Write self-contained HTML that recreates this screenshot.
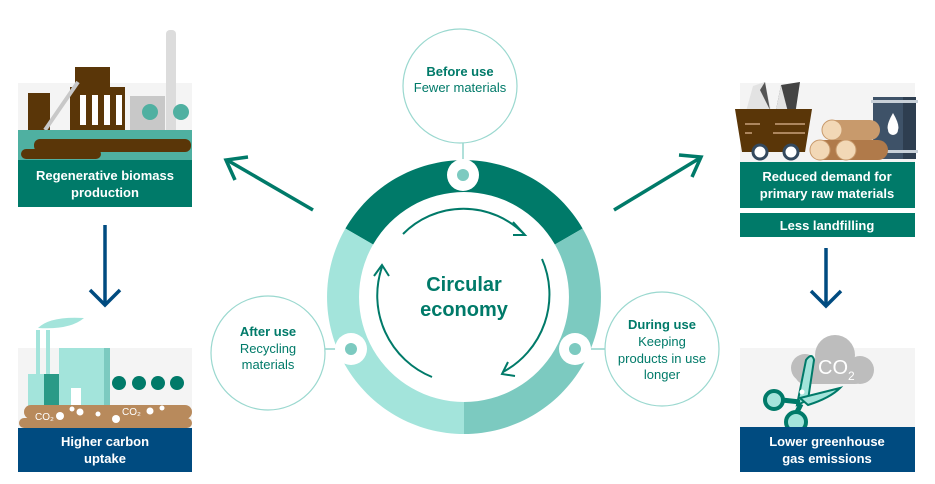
<!DOCTYPE html>
<html><head><meta charset="utf-8"><style>
html,body{margin:0;padding:0;background:#fff}
svg{display:block}
text{font-family:"Liberation Sans",sans-serif}
</style></head><body>
<svg width="935" height="484" viewBox="0 0 935 484" xmlns="http://www.w3.org/2000/svg">
<!-- ring -->
<path d="M345.4,228.5 A137,137 0 0 1 582.6,228.5 L554.9,244.5 A105,105 0 0 0 373.1,244.5 Z" fill="#007a69"/>
<path d="M582.6,228.5 A137,137 0 0 1 464,434 L464,402 A105,105 0 0 0 554.9,244.5 Z" fill="#7ccac0"/>
<path d="M464,434 A137,137 0 0 1 345.4,228.5 L373.1,244.5 A105,105 0 0 0 464,402 Z" fill="#a3e4db"/>
<!-- connectors -->
<line x1="463" y1="143" x2="463" y2="170" stroke="#7ccac0" stroke-width="1.2"/>
<line x1="325" y1="349" x2="345" y2="349" stroke="#7ccac0" stroke-width="1.2"/>
<line x1="580" y1="349" x2="605" y2="349" stroke="#7ccac0" stroke-width="1.2"/>
<circle cx="463" cy="175" r="16" fill="#fff"/><circle cx="463" cy="175" r="6" fill="#7ccac0"/>
<circle cx="351" cy="349" r="16" fill="#fff"/><circle cx="351" cy="349" r="6" fill="#7ccac0"/>
<circle cx="575" cy="349" r="16" fill="#fff"/><circle cx="575" cy="349" r="6" fill="#7ccac0"/>
<!-- bubbles -->
<circle cx="460" cy="86" r="57" fill="#fff" stroke="#9ad8cf" stroke-width="1.2"/>
<circle cx="268" cy="353" r="57" fill="#fff" stroke="#9ad8cf" stroke-width="1.2"/>
<circle cx="662" cy="349" r="57" fill="#fff" stroke="#9ad8cf" stroke-width="1.2"/>
<g text-anchor="middle" font-size="13" fill="#007a69">
<text x="460" y="76" font-weight="bold">Before use</text>
<text x="460" y="92">Fewer materials</text>
<text x="268" y="336" font-weight="bold">After use</text>
<text x="268" y="353">Recycling</text>
<text x="268" y="369">materials</text>
<text x="662" y="329" font-weight="bold">During use</text>
<text x="662" y="346">Keeping</text>
<text x="662" y="363">products in use</text>
<text x="662" y="379">longer</text>
</g>
<text x="464" y="291" text-anchor="middle" font-size="20" font-weight="bold" fill="#007a69">Circular</text>
<text x="464" y="316" text-anchor="middle" font-size="20" font-weight="bold" fill="#007a69">economy</text>
<!-- inner arrows -->
<g fill="none" stroke="#007a69" stroke-width="2">
<path d="M403,234 A85,85 0 0 1 524,234"/><path d="M513,222 L525,235 L513,235"/>
<path d="M542,259 A88,88 0 0 1 503,372"/><path d="M508,362 L502,374 L515,376"/>
<path d="M432,377 A88,88 0 0 1 382,267"/><path d="M374,276 L382,265 L389,276"/>
</g>
<!-- outer arrows -->
<g fill="none" stroke="#007a69" stroke-width="3.5">
<line x1="313" y1="210" x2="227" y2="160"/><path d="M248,157 L226,160 L235,180"/>
<line x1="614" y1="210" x2="700" y2="158"/><path d="M679,155 L701,157 L692,177"/>
</g>
<g fill="none" stroke="#004b80" stroke-width="3.5">
<line x1="105" y1="225" x2="105" y2="305"/><path d="M90,290 L105,305 L120,290"/>
<line x1="826" y1="248" x2="826" y2="306"/><path d="M811,291 L826,306 L841,291"/>
</g>
<!-- top-left panel -->
<rect x="18" y="83" width="174" height="50" fill="#f4f4f4"/>
<rect x="166" y="30" width="10" height="105" rx="4" fill="#dcdcdc"/>
<rect x="130" y="96" width="35" height="35" fill="#c8c8c8"/>
<rect x="28" y="93" width="22" height="40" fill="#5a3608"/>
<rect x="70" y="87" width="55" height="46" fill="#5a3608"/>
<rect x="75" y="67" width="35" height="22" fill="#5a3608"/>
<rect x="80" y="95" width="6" height="30" fill="#fff"/><rect x="92" y="95" width="6" height="30" fill="#fff"/><rect x="104" y="95" width="6" height="30" fill="#fff"/><rect x="116" y="95" width="6" height="30" fill="#fff"/>
<line x1="45" y1="130" x2="78" y2="82" stroke="#c8c8c8" stroke-width="4"/>
<circle cx="150" cy="112" r="8" fill="#4fb0a1"/><circle cx="181" cy="112" r="8" fill="#4fb0a1"/>
<rect x="18" y="130" width="174" height="30" fill="#4fb0a1"/>
<rect x="34" y="139" width="157" height="13" rx="6" fill="#5a3608"/>
<rect x="21" y="149" width="80" height="10" rx="5" fill="#5a3608"/>
<rect x="18" y="160" width="174" height="47" fill="#007a69"/>
<text x="105" y="180" text-anchor="middle" font-size="13" font-weight="bold" fill="#fff">Regenerative biomass</text>
<text x="105" y="197" text-anchor="middle" font-size="13" font-weight="bold" fill="#fff">production</text>
<!-- bottom-left panel -->
<rect x="18" y="348" width="174" height="80" fill="#f4f4f4"/>
<path d="M38,328 Q50,316 84,318 Q70,330 38,328Z" fill="#a3e4db"/>
<rect x="36" y="330" width="4" height="45" fill="#a3e4db"/><rect x="46" y="330" width="4" height="45" fill="#a3e4db"/>
<rect x="28" y="374" width="16" height="32" fill="#a3e4db"/><rect x="44" y="374" width="16" height="32" fill="#2a9a87"/>
<rect x="59" y="348" width="51" height="58" fill="#a3e4db"/><rect x="104" y="348" width="6" height="58" fill="#7ccac0"/>
<rect x="71" y="388" width="10" height="18" fill="#fff"/>
<g fill="#007a69"><circle cx="119" cy="383" r="7"/><circle cx="139" cy="383" r="7"/><circle cx="158" cy="383" r="7"/><circle cx="177" cy="383" r="7"/></g>
<rect x="24" y="405" width="168" height="14" rx="7" fill="#b88a5c"/>
<rect x="19" y="418" width="173" height="10" rx="5" fill="#b88a5c"/>
<g fill="#fff"><circle cx="60" cy="416" r="4"/><circle cx="72" cy="409" r="2.5"/><circle cx="80" cy="412" r="3.5"/><circle cx="98" cy="414" r="2.5"/><circle cx="116" cy="419" r="4"/><circle cx="150" cy="411" r="3.5"/><circle cx="162" cy="408" r="2.5"/></g>
<text x="35" y="420" font-size="10" fill="#fff">CO₂</text><text x="122" y="415" font-size="10" fill="#fff">CO₂</text>
<rect x="18" y="428" width="174" height="44" fill="#004b80"/>
<text x="105" y="446" text-anchor="middle" font-size="13" font-weight="bold" fill="#fff">Higher carbon</text>
<text x="105" y="463" text-anchor="middle" font-size="13" font-weight="bold" fill="#fff">uptake</text>
<!-- top-right panel -->
<rect x="740" y="83" width="175" height="80" fill="#f4f4f4"/>
<path d="M745,115 L753,86 L765,82 L772,115Z" fill="#e3e3e3"/><path d="M760,90 L765,82 L770,110Z" fill="#555"/>
<path d="M775,115 L781,85 L800,82 L795,115Z" fill="#444"/><path d="M775,115 L781,85 L788,112Z" fill="#e3e3e3"/>
<path d="M735,109 L812,109 L805,152 L742,152Z" fill="#5a3608"/>
<g stroke="#c8a07a" stroke-width="1.5"><line x1="745" y1="124" x2="760" y2="124"/><line x1="775" y1="124" x2="805" y2="124"/><line x1="745" y1="133" x2="752" y2="133"/><line x1="773" y1="133" x2="805" y2="133"/></g>
<circle cx="760" cy="152" r="7" fill="#fff" stroke="#34495e" stroke-width="3"/><circle cx="791" cy="152" r="7" fill="#fff" stroke="#34495e" stroke-width="3"/>
<rect x="873" y="97" width="43" height="62" fill="#3e5268"/>
<rect x="903" y="97" width="13" height="62" fill="#2e3e50"/>
<rect x="871" y="100" width="47" height="3" fill="#c8d0d8"/><rect x="871" y="150" width="47" height="3" fill="#c8d0d8"/>
<path d="M893,113 Q886,125 888,130 A5,5 0 0 0 898,130 Q900,125 893,113Z" fill="#fff"/>
<rect x="822" y="120" width="58" height="20" rx="10" fill="#c89a6c"/>
<circle cx="832" cy="130" r="10" fill="#f2d8b6" stroke="#c89a6c"/>
<rect x="810" y="140" width="78" height="20" rx="10" fill="#b07a4a"/>
<circle cx="820" cy="150" r="10" fill="#f2d8b6" stroke="#c89a6c"/><circle cx="846" cy="150" r="10" fill="#f2d8b6" stroke="#c89a6c"/>
<rect x="740" y="162" width="175" height="46" fill="#007a69"/>
<text x="827" y="181" text-anchor="middle" font-size="13" font-weight="bold" fill="#fff">Reduced demand for</text>
<text x="827" y="198" text-anchor="middle" font-size="13" font-weight="bold" fill="#fff">primary raw materials</text>
<rect x="740" y="213" width="175" height="24" fill="#007a69"/>
<text x="827" y="230" text-anchor="middle" font-size="13" font-weight="bold" fill="#fff">Less landfilling</text>
<!-- bottom-right panel -->
<rect x="740" y="348" width="175" height="80" fill="#f4f4f4"/>
<g fill="#bdbdbd"><circle cx="805" cy="368" r="14"/><circle cx="835" cy="355" r="20"/><circle cx="860" cy="370" r="14"/><rect x="795" y="362" width="70" height="22" rx="10"/></g>
<text x="818" y="374" font-size="20" fill="#fff">CO<tspan font-size="12" dy="6">2</tspan></text>
<g fill="#a3e4db" stroke="#007a69" stroke-width="2">
<path d="M797,405 L806,360 Q812,352 814,360 L808,400Z"/>
<path d="M800,398 L840,388 Q830,398 808,405Z"/>
<circle cx="774" cy="400" r="9" stroke-width="4"/><circle cx="796" cy="422" r="10" stroke-width="4"/>
<line x1="782" y1="400" x2="800" y2="402" stroke-width="5"/><line x1="797" y1="412" x2="801" y2="404" stroke-width="5"/>
</g>
<circle cx="802" cy="392" r="2.5" fill="#fff"/>
<rect x="740" y="427" width="175" height="45" fill="#004b80"/>
<text x="827" y="446" text-anchor="middle" font-size="13" font-weight="bold" fill="#fff">Lower greenhouse</text>
<text x="827" y="463" text-anchor="middle" font-size="13" font-weight="bold" fill="#fff">gas emissions</text>
</svg>
</body></html>
